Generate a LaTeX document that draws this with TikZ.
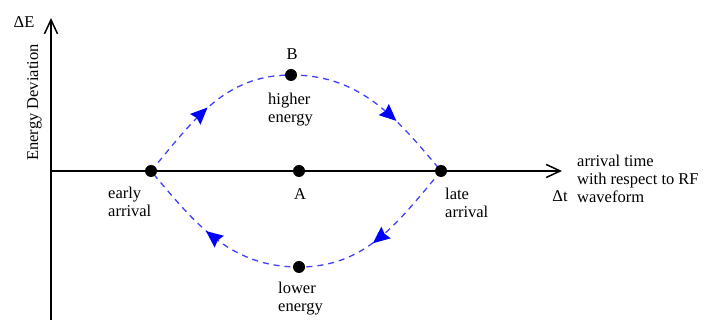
\documentclass[tikz,border=0pt]{standalone}
\usepackage{fontspec}
\setmainfont{Liberation Serif}
\usetikzlibrary{arrows.meta,decorations.markings,backgrounds}
\newcommand{\flowtip}{\fill[blue,solid] (9pt,0) -- (-8pt,7.5pt) -- (-6pt,0) -- (-8pt,-7.5pt) -- cycle;}
\tikzset{dot/.style={circle,fill=black,inner sep=0pt,minimum size=12pt},
  lbl/.style={align=left,inner sep=0pt,font=\fontsize{16.5}{18}\selectfont},
  axis/.style={-{Straight Barb[length=14pt,width=13pt,line width=1.5pt]},line width=1.6pt},
  orbit/.style={draw=blue!75,dash pattern=on 6pt off 5pt,line width=1.3pt,
    postaction={decorate,decoration={markings,
      mark=at position #1 with {\flowtip},
      mark=at position 1-#1 with {\flowtip}}}}}

\begin{document}
\begin{tikzpicture}[x=1pt,y=1pt]
\useasboundingbox (0,0) rectangle (709,320);
% axes
\coordinate (O) at (51,149);
\coordinate (ybot) at (51,0);
\coordinate (ytop) at (51,302);
\coordinate (xend) at (562,149);
% points on the phase plane
\node[dot] (early) at (151,149) {};
\node[dot] (A) at (299,149) {};
\node[dot] (late) at (441,149) {};
\node[dot] (B) at (291,245) {};
\node[dot] (low) at (299,53) {};
% labels
\node[lbl] (lE) at (24,298) {ΔE};
\node[lbl,rotate=90] (ldev) at (34.5,217.5) {Energy Deviation};
\node[lbl] (lB) at (292,266) {B};
\node[lbl,anchor=north west] (lhigh) at (268,227) {higher\\energy};
\node[lbl,anchor=north west] (learly) at (108,133) {early\\arrival};
\node[lbl] (lA) at (300,126) {A};
\node[lbl,anchor=north west] (llate) at (445,132) {late\\arrival};
\node[lbl] (ldt) at (560,124) {Δt};
\node[lbl,anchor=north west] (ltime) at (577,165) {arrival time\\with respect to RF\\waveform};
\node[lbl,anchor=north west] (llow) at (278,38) {lower\\energy};
\begin{pgfonlayer}{background}
\draw[axis] (ybot) -- (ytop);
\draw[axis] (O) -- (xend);
\path[orbit=0.21] (early.center) to[out=50,in=180] (B.center) to[out=0,in=130] (late.center);
\path[orbit=0.25] (late.center) to[out=-130,in=0] (low.center) to[out=180,in=-50] (early.center);
\end{pgfonlayer}
\end{tikzpicture}
\end{document}
